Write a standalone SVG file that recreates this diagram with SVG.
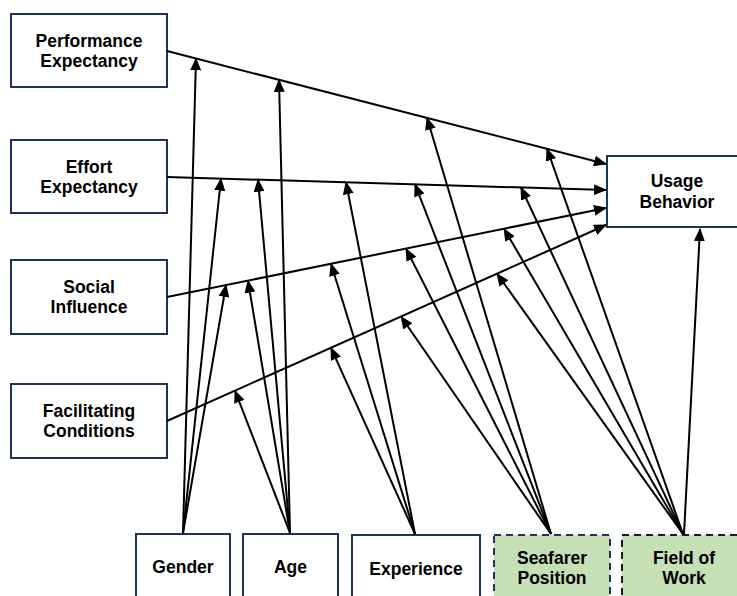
<svg xmlns="http://www.w3.org/2000/svg" width="737" height="596" viewBox="0 0 737 596">
<style>
.box{fill:#fff;stroke:#1f3358;stroke-width:2}
.mod{fill:#c5e0b4;stroke:#1f3358;stroke-width:2;stroke-dasharray:7 5}
.mod2{fill:#c5e0b4;stroke:#1a1a1a;stroke-width:2;stroke-dasharray:7 5}
text{font-family:"Liberation Sans",Arial,sans-serif;font-weight:bold;font-size:17.5px;fill:#000;text-anchor:middle}
.c line{stroke:#000;stroke-width:2;marker-end:url(#ah)}
</style>
<defs>
<marker id="ah" viewBox="0 0 13 11" refX="12" refY="5.5" markerWidth="13" markerHeight="11" markerUnits="userSpaceOnUse" orient="auto">
<path d="M0,0 L13,5.5 L0,11 z" fill="#000"/>
</marker>
</defs>
<rect width="737" height="596" fill="#fff"/>
<g id="pe"><rect class="box" x="11" y="14" width="156" height="73"/><text x="89" y="47">Performance</text><text x="89" y="67">Expectancy</text></g>
<g id="ee"><rect class="box" x="11" y="140" width="156" height="73"/><text x="89" y="173">Effort</text><text x="89" y="193">Expectancy</text></g>
<g id="si"><rect class="box" x="11" y="260" width="156" height="74"/><text x="89" y="293">Social</text><text x="89" y="313">Influence</text></g>
<g id="fc"><rect class="box" x="11" y="384" width="156" height="74"/><text x="89" y="417">Facilitating</text><text x="89" y="437">Conditions</text></g>
<g id="ub"><rect class="box" x="607" y="156" width="140" height="71"/><text x="677" y="187">Usage</text><text x="677" y="208">Behavior</text></g>
<g id="gender"><rect class="box" x="136" y="534" width="94" height="80"/><text x="183" y="573">Gender</text></g>
<g id="age"><rect class="box" x="243" y="534" width="95" height="80"/><text x="290.5" y="573">Age</text></g>
<g id="experience"><rect class="box" x="352" y="535" width="128" height="80"/><text x="416" y="575">Experience</text></g>
<g id="seafarer"><rect class="mod" x="494" y="535" width="116" height="80"/><text x="552" y="564">Seafarer</text><text x="552" y="584">Position</text></g>
<g id="field"><rect class="mod2" x="622" y="535" width="124" height="80"/><text x="684" y="564">Field of</text><text x="684" y="584">Work</text></g>
<g id="connectors" class="c">
<line x1="167" y1="51" x2="606" y2="164"/>
<line x1="167" y1="177" x2="606" y2="190"/>
<line x1="167" y1="297" x2="606" y2="208"/>
<line x1="167" y1="421" x2="606" y2="225"/>
<line x1="684" y1="534" x2="700" y2="229"/>
<line x1="183" y1="533" x2="196" y2="58.4"/>
<line x1="183" y1="533" x2="221" y2="178.6"/>
<line x1="183" y1="533" x2="226" y2="285"/>
<line x1="290" y1="533" x2="279" y2="79.8"/>
<line x1="290" y1="533" x2="258" y2="179.7"/>
<line x1="290" y1="533" x2="248" y2="280.6"/>
<line x1="290" y1="533" x2="235" y2="390.6"/>
<line x1="415" y1="534" x2="346" y2="182.3"/>
<line x1="415" y1="534" x2="331" y2="263.8"/>
<line x1="415" y1="534" x2="331" y2="347.8"/>
<line x1="551" y1="534" x2="427" y2="117.8"/>
<line x1="551" y1="534" x2="415" y2="184.3"/>
<line x1="551" y1="534" x2="406" y2="248.6"/>
<line x1="551" y1="534" x2="401" y2="316.5"/>
<line x1="683" y1="534" x2="547" y2="148.6"/>
<line x1="683" y1="534" x2="521" y2="187.5"/>
<line x1="683" y1="534" x2="504" y2="228.7"/>
<line x1="683" y1="534" x2="497" y2="273.7"/>
</g>
</svg>
